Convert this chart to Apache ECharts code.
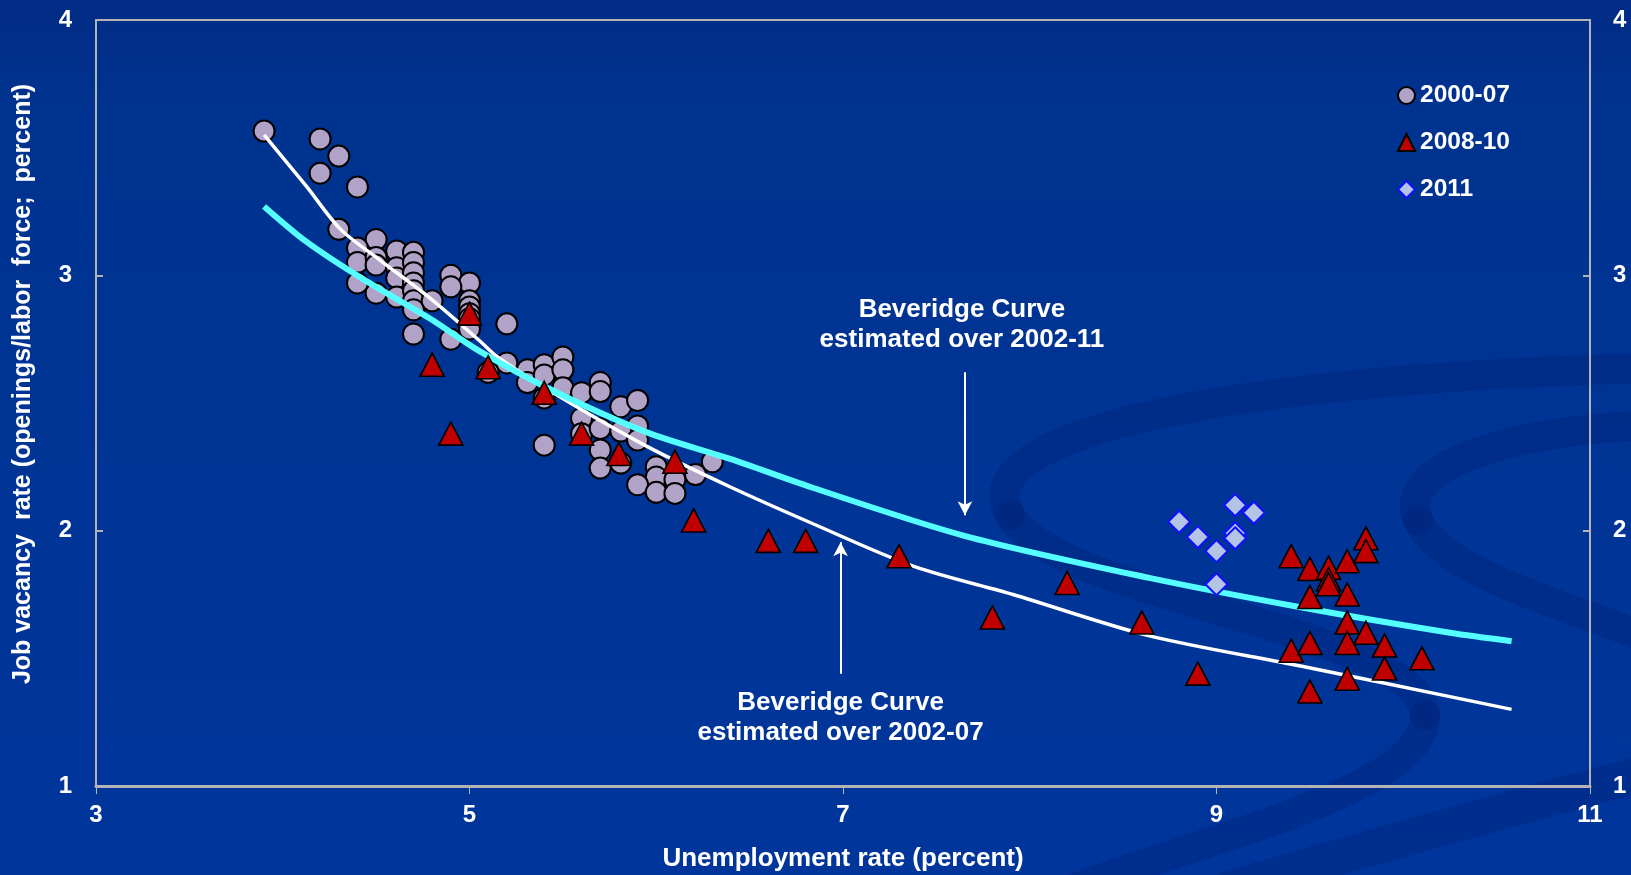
<!DOCTYPE html>
<html>
<head>
<meta charset="utf-8">
<script src="https://cdn.jsdelivr.net/npm/echarts@6/dist/echarts.min.js"></script>
<style>
html,body{margin:0;padding:0;background:#003399;}
#c{width:1631px;height:875px;}
</style>
</head>
<body>
<div id="c"></div>
<script>
// ---- data ----
const xTicks = [3, 5, 7, 9, 11];
const yTicks = [1, 2, 3, 4];

const pts2000_07 = [
  [3.90,3.565],[4.20,3.534],[4.30,3.467],[4.20,3.40],[4.40,3.346],[4.30,3.18],
  [4.50,3.14],[4.40,3.107],[4.40,3.05],[4.40,2.97],[4.50,3.07],[4.50,3.04],[4.50,2.93],
  [4.61,3.095],[4.61,3.03],[4.61,2.99],[4.61,2.915],
  [4.70,3.09],[4.70,3.05],[4.70,3.01],[4.70,2.97],[4.70,2.94],[4.70,2.90],[4.70,2.865],[4.70,2.77],
  [4.80,2.90],[4.90,3.00],[5.00,2.97],[4.90,2.955],[5.00,2.90],[5.00,2.876],[5.00,2.85],[5.00,2.83],
  [5.00,2.79],[4.90,2.75],[5.20,2.81],
  [5.20,2.657],[5.10,2.62],[5.31,2.63],[5.31,2.58],[5.40,2.65],[5.40,2.61],[5.40,2.52],
  [5.50,2.68],[5.50,2.63],[5.50,2.56],[5.60,2.54],[5.70,2.58],[5.70,2.545],[5.81,2.485],
  [5.90,2.51],[5.90,2.41],[5.60,2.44],[5.60,2.38],[5.70,2.40],[5.81,2.39],[5.90,2.355],
  [5.70,2.316],[5.70,2.245],[5.81,2.265],[5.40,2.335],[6.00,2.25],[6.00,2.21],[5.90,2.18],
  [6.00,2.15],[6.10,2.20],[6.10,2.146],[6.21,2.22],[6.30,2.27]
];

const pts2008_10 = [
  [5.00,2.85],[4.80,2.65],[4.90,2.38],[5.10,2.64],[5.40,2.54],[5.60,2.38],[5.80,2.30],
  [6.10,2.27],[6.20,2.04],[6.60,1.96],[6.80,1.96],[7.30,1.90],[7.80,1.66],[8.20,1.795],
  [8.60,1.64],[8.90,1.44],[9.40,1.90],[9.50,1.85],[9.60,1.855],[9.60,1.81],[9.60,1.79],
  [9.70,1.88],[9.80,1.97],[9.80,1.92],[9.50,1.74],[9.70,1.75],[9.70,1.64],[9.80,1.60],
  [9.70,1.56],[9.40,1.53],[9.50,1.56],[9.90,1.55],[9.90,1.46],[10.10,1.50],[9.70,1.42],[9.50,1.37]
];

const pts2011 = [
  [8.80,2.035],[8.90,1.975],[9.00,1.92],[9.10,2.10],[9.20,2.07],[9.10,1.99],[9.10,1.97],[9.00,1.79]
];

const curve2002_07 = [
  [3.90,3.55],[4.125,3.35],[4.31,3.18],[4.52,3.06],[4.79,2.91],[5.06,2.74],[5.15,2.68],
  [5.47,2.53],[5.95,2.33],[6.40,2.17],[6.83,2.03],[7.38,1.86],[7.91,1.75],[8.63,1.59],
  [9.45,1.47],[10.25,1.35],[10.58,1.30]
];

const curve2002_11 = [
  [3.90,3.27],[4.13,3.13],[4.43,2.985],[4.79,2.83],[5.06,2.70],[5.47,2.54],[5.95,2.385],
  [6.40,2.28],[6.83,2.17],[7.65,1.98],[8.64,1.815],[9.45,1.70],[10.25,1.60],[10.58,1.567]
];

const legendNames = ['2000-07', '2008-10', '2011'];
const note2002_11 = ['Beveridge Curve', 'estimated over 2002-11'];
const note2002_07 = ['Beveridge Curve', 'estimated over 2002-07'];
const arrow2002_11 = [[7.653, 2.62], [7.653, 2.06]];
const arrow2002_07 = [[6.987, 1.44], [6.987, 1.955]];
const yTitle = 'Job vacancy  rate (openings/labor  force;  percent)';
const xTitle = 'Unemployment rate (percent)';

// ---- chart ----
const FONT = '"Liberation Sans", Arial, sans-serif';
const chart = echarts.init(document.getElementById('c'), null, {renderer: 'canvas'});

const axisGray = '#b4b4b4';
const labelStyle = {color: '#ffffff', fontSize: 24, fontWeight: 'bold', fontFamily: FONT};

const swooshStyle = {stroke: 'rgba(0,20,90,0.2)', lineWidth: 30, fill: null, lineCap: 'round'};

const option = {
  backgroundColor: {
    type: 'linear', x: 0, y: 0, x2: 0, y2: 1,
    colorStops: [{offset: 0, color: '#022c86'}, {offset: 0.12, color: '#00338f'}, {offset: 1, color: '#00359c'}]
  },
  animation: false,
  grid: {left: 96, right: 41, top: 20, bottom: 89, show: true, borderColor: axisGray, borderWidth: 2, backgroundColor: 'transparent'},
  legend: {
    orient: 'vertical', left: 1397, top: 83, padding: 0, itemGap: 22,
    itemWidth: 17, itemHeight: 17,
    data: legendNames,
    textStyle: {color: '#ffffff', fontSize: 24.5, fontWeight: 'bold', fontFamily: FONT}
  },
  xAxis: {
    type: 'value', min: xTicks[0], max: xTicks[xTicks.length-1], interval: 2,
    axisLine: {show: true, lineStyle: {color: axisGray, width: 3}},
    axisTick: {show: true, inside: false, length: 8, lineStyle: {color: axisGray, width: 1}},
    axisLabel: Object.assign({margin: 17}, labelStyle),
    splitLine: {show: false}
  },
  yAxis: [{
    type: 'value', min: yTicks[0], max: yTicks[yTicks.length-1], interval: 1, position: 'left',
    axisLine: {show: true, lineStyle: {color: axisGray, width: 2}},
    axisTick: {show: true, inside: true, length: 7, lineStyle: {color: axisGray, width: 2}},
    axisLabel: Object.assign({margin: 24}, labelStyle),
    splitLine: {show: false}
  }, {
    type: 'value', min: yTicks[0], max: yTicks[yTicks.length-1], interval: 1, position: 'right',
    axisLine: {show: true, lineStyle: {color: axisGray, width: 2}},
    axisTick: {show: true, inside: true, length: 7, lineStyle: {color: axisGray, width: 2}},
    axisLabel: Object.assign({margin: 23}, labelStyle),
    splitLine: {show: false}
  }],
  series: [
    {
      name: '2000-07', type: 'scatter', data: pts2000_07, symbol: 'circle', symbolSize: 21, z: 2,
      itemStyle: {color: '#b1a3c8', borderColor: '#000000', borderWidth: 2, opacity: 1}
    },
    {
      name: 'curve0207', type: 'line', data: curve2002_07, showSymbol: false, smooth: 0.3, z: 3,
      lineStyle: {color: '#ffffff', width: 3.5}
    },
    {
      name: 'curve0211', type: 'line', data: curve2002_11, showSymbol: false, smooth: 0.3, z: 3,
      lineStyle: {color: '#55ffff', width: 6}
    },
    {
      name: '2008-10', type: 'scatter', data: pts2008_10, symbol: 'triangle', symbolSize: [24, 23], z: 4,
      itemStyle: {color: '#c00000', borderColor: '#000000', borderWidth: 1.6, opacity: 1}
    },
    {
      name: '2011', type: 'scatter', data: pts2011, symbol: 'diamond', symbolSize: [22, 22], z: 5,
      itemStyle: {color: '#b4c4e4', borderColor: '#1010ff', borderWidth: 2, opacity: 1}
    },
    {
      name: 'arrows', type: 'line', data: [], z: 6,
      markLine: {
        silent: true, symbol: ['none', 'arrow'], symbolSize: [11, 14], label: {show: false},
        lineStyle: {color: '#ffffff', width: 2, type: 'solid'},
        data: [
          [{coord: arrow2002_11[0]}, {coord: arrow2002_11[1]}],
          [{coord: arrow2002_07[0]}, {coord: arrow2002_07[1]}]
        ]
      }
    }
  ]
};
chart.setOption(option);

// annotations positioned through the chart's own scales
const p11 = chart.convertToPixel({xAxisIndex: 0, yAxisIndex: 0}, arrow2002_11[0]);
const p07 = chart.convertToPixel({xAxisIndex: 0, yAxisIndex: 0}, arrow2002_07[0]);
const gx0 = chart.convertToPixel({xAxisIndex: 0}, xTicks[0]);
const gx1 = chart.convertToPixel({xAxisIndex: 0}, xTicks[xTicks.length-1]);
const txt = (x, y, s, size) => ({
  type: 'text', x: x, y: y, z: 10,
  style: {text: s, fill: '#ffffff', font: 'bold ' + size + 'px ' + FONT, textAlign: 'center', textVerticalAlign: 'middle'}
});
const bz = (x1, y1, c1x, c1y, c2x, c2y, x2, y2, w) => ({
  type: 'bezierCurve', z: 0, silent: true,
  shape: {x1: x1, y1: y1, cpx1: c1x, cpy1: c1y, cpx2: c2x, cpy2: c2y, x2: x2, y2: y2},
  style: Object.assign({}, swooshStyle, w ? {lineWidth: w} : {})
});
chart.setOption({
  graphic: [
    bz(1650, 368, 1250, 378, 960, 430, 1010, 515),
    bz(1010, 515, 1060, 600, 1420, 630, 1425, 715),
    bz(1425, 715, 1428, 790, 1200, 840, 1070, 890),
    bz(1650, 425, 1500, 432, 1395, 468, 1418, 520),
    bz(1418, 520, 1440, 575, 1590, 612, 1650, 640),
    bz(1225, 890, 1380, 845, 1520, 805, 1650, 772, 36),
    txt(p11[0] - 3, 310, note2002_11[0], 26),
    txt(p11[0] - 3, 340, note2002_11[1], 26),
    txt(p07[0], 703, note2002_07[0], 26),
    txt(p07[0], 733, note2002_07[1], 26),
    txt((gx0 + gx1) / 2, 859, xTitle, 26),
    {
      type: 'text', x: 23, y: 384, rotation: Math.PI / 2, z: 10,
      style: {text: yTitle, fill: '#ffffff', font: 'bold 25px ' + FONT, textAlign: 'center', textVerticalAlign: 'middle'}
    }
  ]
});
</script>
</body>
</html>
